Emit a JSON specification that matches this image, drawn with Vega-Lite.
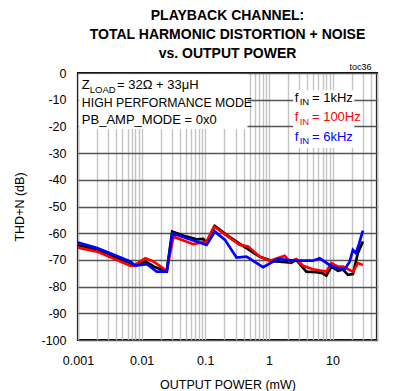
{
  "$schema": "https://vega.github.io/schema/vega-lite/v6.json",
  "width": 299,
  "height": 267,
  "autosize": "none",
  "padding": {"left": 78, "top": 73, "right": 35, "bottom": 51},
  "background": "white",
  "title": {
    "text": ["PLAYBACK CHANNEL:", "TOTAL HARMONIC DISTORTION + NOISE", "vs. OUTPUT POWER"],
    "font": "Liberation Sans",
    "fontSize": 14,
    "fontWeight": "bold",
    "lineHeight": 19,
    "anchor": "middle",
    "offset": 2,
    "color": "black"
  },
  "config": {
    "view": {"stroke": "black", "strokeWidth": 2.2},
    "font": "Liberation Sans",
    "text": {"font": "Liberation Sans"},
    "axisX": {
      "titleFont": "Liberation Sans",
      "titleFontSize": 12.5, "titleFontWeight": "normal", "titleColor": "black",
      "titlePadding": 12,
      "labelFont": "Liberation Sans",
      "labelFontSize": 12.5, "labelColor": "black", "labelPadding": 14,
      "labelOverlap": false, "labelFlush": false,
      "labelExpr": "abs(log(datum.value)/LN10 - round(log(datum.value)/LN10)) < 0.001 ? format(datum.value, '~g') : ''",
      "ticks": false, "domain": false,
      "grid": true, "gridColor": "#c4c4c4", "gridWidth": 1.4
    },
    "axisY": {
      "titleFont": "Liberation Sans",
      "titleFontSize": 12.5, "titleFontWeight": "normal", "titleColor": "black",
      "titlePadding": 14,
      "tickCount": 10,
      "labelExpr": "'' + datum.value",
      "labelOverlap": false, "labelFlush": false,
      "labelFont": "Liberation Sans",
      "labelFontSize": 12.5, "labelColor": "black", "labelPadding": 12,
      "ticks": false, "domain": false,
      "grid": true, "gridColor": "#555555", "gridWidth": 1.5
    }
  },
  "datasets": {
    "curves": [
      {"series": "1kHz", "power": 0.001, "thdn": -64.5},
      {"series": "1kHz", "power": 0.002, "thdn": -66.2},
      {"series": "1kHz", "power": 0.0033, "thdn": -68.3},
      {"series": "1kHz", "power": 0.0066, "thdn": -71.3},
      {"series": "1kHz", "power": 0.0079, "thdn": -72.2},
      {"series": "1kHz", "power": 0.0115, "thdn": -70.6},
      {"series": "1kHz", "power": 0.0165, "thdn": -72.8},
      {"series": "1kHz", "power": 0.0248, "thdn": -74.3},
      {"series": "1kHz", "power": 0.0302, "thdn": -59.4},
      {"series": "1kHz", "power": 0.051, "thdn": -61.3},
      {"series": "1kHz", "power": 0.073, "thdn": -62.3},
      {"series": "1kHz", "power": 0.093, "thdn": -62.1},
      {"series": "1kHz", "power": 0.105, "thdn": -63.6},
      {"series": "1kHz", "power": 0.142, "thdn": -57.3},
      {"series": "1kHz", "power": 0.216, "thdn": -60.6},
      {"series": "1kHz", "power": 0.37, "thdn": -64.4},
      {"series": "1kHz", "power": 0.72, "thdn": -68.8},
      {"series": "1kHz", "power": 1.16, "thdn": -70.5},
      {"series": "1kHz", "power": 2.26, "thdn": -71.0},
      {"series": "1kHz", "power": 2.7, "thdn": -70.0},
      {"series": "1kHz", "power": 3.88, "thdn": -74.4},
      {"series": "1kHz", "power": 5.57, "thdn": -74.6},
      {"series": "1kHz", "power": 7.0, "thdn": -75.0},
      {"series": "1kHz", "power": 8.0, "thdn": -75.9},
      {"series": "1kHz", "power": 9.6, "thdn": -72.5},
      {"series": "1kHz", "power": 12.2, "thdn": -74.1},
      {"series": "1kHz", "power": 14.6, "thdn": -73.6},
      {"series": "1kHz", "power": 17.5, "thdn": -75.6},
      {"series": "1kHz", "power": 20.9, "thdn": -75.3},
      {"series": "1kHz", "power": 25.0, "thdn": -67.5},
      {"series": "1kHz", "power": 30.0, "thdn": -63.1},
      {"series": "100Hz", "power": 0.001, "thdn": -65.4},
      {"series": "100Hz", "power": 0.002, "thdn": -66.9},
      {"series": "100Hz", "power": 0.0066, "thdn": -72.2},
      {"series": "100Hz", "power": 0.0074, "thdn": -72.2},
      {"series": "100Hz", "power": 0.0114, "thdn": -69.4},
      {"series": "100Hz", "power": 0.0153, "thdn": -70.6},
      {"series": "100Hz", "power": 0.0248, "thdn": -74.1},
      {"series": "100Hz", "power": 0.0315, "thdn": -61.3},
      {"series": "100Hz", "power": 0.065, "thdn": -64.1},
      {"series": "100Hz", "power": 0.105, "thdn": -63.1},
      {"series": "100Hz", "power": 0.137, "thdn": -57.5},
      {"series": "100Hz", "power": 0.191, "thdn": -60.0},
      {"series": "100Hz", "power": 0.35, "thdn": -64.4},
      {"series": "100Hz", "power": 0.47, "thdn": -65.0},
      {"series": "100Hz", "power": 0.72, "thdn": -68.8},
      {"series": "100Hz", "power": 1.03, "thdn": -70.3},
      {"series": "100Hz", "power": 1.77, "thdn": -68.5},
      {"series": "100Hz", "power": 2.12, "thdn": -70.6},
      {"series": "100Hz", "power": 2.7, "thdn": -69.7},
      {"series": "100Hz", "power": 3.44, "thdn": -72.2},
      {"series": "100Hz", "power": 4.93, "thdn": -73.5},
      {"series": "100Hz", "power": 8.0, "thdn": -74.4},
      {"series": "100Hz", "power": 9.6, "thdn": -71.2},
      {"series": "100Hz", "power": 12.2, "thdn": -72.5},
      {"series": "100Hz", "power": 14.6, "thdn": -72.5},
      {"series": "100Hz", "power": 20.9, "thdn": -74.4},
      {"series": "100Hz", "power": 25.0, "thdn": -71.2},
      {"series": "100Hz", "power": 30.0, "thdn": -71.9},
      {"series": "6kHz", "power": 0.001, "thdn": -63.5},
      {"series": "6kHz", "power": 0.002, "thdn": -65.6},
      {"series": "6kHz", "power": 0.0032, "thdn": -67.5},
      {"series": "6kHz", "power": 0.0066, "thdn": -70.6},
      {"series": "6kHz", "power": 0.0079, "thdn": -72.1},
      {"series": "6kHz", "power": 0.0121, "thdn": -71.6},
      {"series": "6kHz", "power": 0.0173, "thdn": -74.4},
      {"series": "6kHz", "power": 0.0248, "thdn": -74.4},
      {"series": "6kHz", "power": 0.0304, "thdn": -60.0},
      {"series": "6kHz", "power": 0.051, "thdn": -61.9},
      {"series": "6kHz", "power": 0.073, "thdn": -63.1},
      {"series": "6kHz", "power": 0.105, "thdn": -64.4},
      {"series": "6kHz", "power": 0.142, "thdn": -59.4},
      {"series": "6kHz", "power": 0.204, "thdn": -62.5},
      {"series": "6kHz", "power": 0.31, "thdn": -69.1},
      {"series": "6kHz", "power": 0.445, "thdn": -68.8},
      {"series": "6kHz", "power": 0.81, "thdn": -72.7},
      {"series": "6kHz", "power": 1.39, "thdn": -69.6},
      {"series": "6kHz", "power": 2.39, "thdn": -70.3},
      {"series": "6kHz", "power": 4.93, "thdn": -70.3},
      {"series": "6kHz", "power": 6.28, "thdn": -69.4},
      {"series": "6kHz", "power": 9.0, "thdn": -71.9},
      {"series": "6kHz", "power": 11.5, "thdn": -73.1},
      {"series": "6kHz", "power": 15.5, "thdn": -73.5},
      {"series": "6kHz", "power": 18.5, "thdn": -70.8},
      {"series": "6kHz", "power": 20.9, "thdn": -66.3},
      {"series": "6kHz", "power": 23.3, "thdn": -67.5},
      {"series": "6kHz", "power": 26.2, "thdn": -63.8},
      {"series": "6kHz", "power": 30.0, "thdn": -59.0}
    ],
    "one": [{}]
  },
  "layer": [
    {
      "data": {"name": "curves"},
      "layer": [
        {
          "transform": [{"filter": "datum.series === '1kHz'"}],
          "mark": {"type": "line", "color": "black", "strokeWidth": 2.7}
        },
        {
          "transform": [{"filter": "datum.series === '100Hz'"}],
          "mark": {"type": "line", "color": "#ff0000", "strokeWidth": 2.7}
        },
        {
          "transform": [{"filter": "datum.series === '6kHz'"}],
          "mark": {"type": "line", "color": "#0000ff", "strokeWidth": 2.7}
        }
      ],
      "encoding": {
        "x": {
          "field": "power", "type": "quantitative",
          "scale": {"type": "log", "domain": [0.001, 50], "nice": false},
          "axis": {"title": "OUTPUT POWER (mW)"}
        },
        "y": {
          "field": "thdn", "type": "quantitative",
          "scale": {"domain": [-100, 0], "nice": false, "zero": false},
          "axis": {"title": "THD+N (dB)"}
        }
      }
    },
    {
      "data": {"name": "one"},
      "mark": {"type": "rect", "fill": "white"},
      "encoding": {
        "x": {"datum": 0.00104, "type": "quantitative"},
        "x2": {"datum": 0.46},
        "y": {"datum": -0.5, "type": "quantitative"},
        "y2": {"datum": -21}
      }
    },
    {
      "data": {"name": "one"},
      "mark": {"type": "rect", "fill": "white"},
      "encoding": {
        "x": {"datum": 2.4, "type": "quantitative"},
        "x2": {"datum": 22},
        "y": {"datum": -6.5, "type": "quantitative"},
        "y2": {"datum": -28}
      }
    },
    {
      "data": {"name": "one"},
      "mark": {"type": "text", "align": "left", "baseline": "middle", "fontSize": 13, "color": "black"},
      "encoding": {
        "x": {"datum": 0.00115, "type": "quantitative"},
        "y": {"datum": -4.5, "type": "quantitative"},
        "text": {"value": "Z"}
      }
    },
    {
      "data": {"name": "one"},
      "mark": {"type": "text", "align": "left", "baseline": "middle", "fontSize": 9.5, "color": "black"},
      "encoding": {
        "x": {"datum": 0.00153, "type": "quantitative"},
        "y": {"datum": -6.3, "type": "quantitative"},
        "text": {"value": "LOAD"}
      }
    },
    {
      "data": {"name": "one"},
      "mark": {"type": "text", "align": "left", "baseline": "middle", "fontSize": 13, "color": "black"},
      "encoding": {
        "x": {"datum": 0.0041, "type": "quantitative"},
        "y": {"datum": -4.5, "type": "quantitative"},
        "text": {"value": "= 32Ω + 33μH"}
      }
    },
    {
      "data": {"name": "one"},
      "mark": {"type": "text", "align": "left", "baseline": "middle", "fontSize": 12.3, "color": "black"},
      "encoding": {
        "x": {"datum": 0.00115, "type": "quantitative"},
        "y": {"datum": -11.1, "type": "quantitative"},
        "text": {"value": "HIGH PERFORMANCE MODE"}
      }
    },
    {
      "data": {"name": "one"},
      "mark": {"type": "text", "align": "left", "baseline": "middle", "fontSize": 13, "color": "black"},
      "encoding": {
        "x": {"datum": 0.00115, "type": "quantitative"},
        "y": {"datum": -17.6, "type": "quantitative"},
        "text": {"value": "PB_AMP_MODE = 0x0"}
      }
    },
    {
      "data": {"name": "one"},
      "mark": {"type": "text", "align": "left", "baseline": "middle", "fontSize": 13, "color": "black"},
      "encoding": {
        "x": {"datum": 2.54, "type": "quantitative"},
        "y": {"datum": -9.4, "type": "quantitative"},
        "text": {"value": "f"}
      }
    },
    {
      "data": {"name": "one"},
      "mark": {"type": "text", "align": "left", "baseline": "middle", "fontSize": 9.5, "color": "black"},
      "encoding": {
        "x": {"datum": 3.05, "type": "quantitative"},
        "y": {"datum": -10.9, "type": "quantitative"},
        "text": {"value": "IN"}
      }
    },
    {
      "data": {"name": "one"},
      "mark": {"type": "text", "align": "left", "baseline": "middle", "fontSize": 13, "color": "black"},
      "encoding": {
        "x": {"datum": 4.75, "type": "quantitative"},
        "y": {"datum": -9.4, "type": "quantitative"},
        "text": {"value": "= 1kHz"}
      }
    },
    {
      "data": {"name": "one"},
      "mark": {"type": "text", "align": "left", "baseline": "middle", "fontSize": 13, "color": "#ff0000"},
      "encoding": {
        "x": {"datum": 2.54, "type": "quantitative"},
        "y": {"datum": -16.6, "type": "quantitative"},
        "text": {"value": "f"}
      }
    },
    {
      "data": {"name": "one"},
      "mark": {"type": "text", "align": "left", "baseline": "middle", "fontSize": 9.5, "color": "#ff0000"},
      "encoding": {
        "x": {"datum": 3.05, "type": "quantitative"},
        "y": {"datum": -18.2, "type": "quantitative"},
        "text": {"value": "IN"}
      }
    },
    {
      "data": {"name": "one"},
      "mark": {"type": "text", "align": "left", "baseline": "middle", "fontSize": 13, "color": "#ff0000"},
      "encoding": {
        "x": {"datum": 4.75, "type": "quantitative"},
        "y": {"datum": -16.6, "type": "quantitative"},
        "text": {"value": "= 100Hz"}
      }
    },
    {
      "data": {"name": "one"},
      "mark": {"type": "text", "align": "left", "baseline": "middle", "fontSize": 13, "color": "#0000ff"},
      "encoding": {
        "x": {"datum": 2.54, "type": "quantitative"},
        "y": {"datum": -24.0, "type": "quantitative"},
        "text": {"value": "f"}
      }
    },
    {
      "data": {"name": "one"},
      "mark": {"type": "text", "align": "left", "baseline": "middle", "fontSize": 9.5, "color": "#0000ff"},
      "encoding": {
        "x": {"datum": 3.05, "type": "quantitative"},
        "y": {"datum": -25.4, "type": "quantitative"},
        "text": {"value": "IN"}
      }
    },
    {
      "data": {"name": "one"},
      "mark": {"type": "text", "align": "left", "baseline": "middle", "fontSize": 13, "color": "#0000ff"},
      "encoding": {
        "x": {"datum": 4.75, "type": "quantitative"},
        "y": {"datum": -24.0, "type": "quantitative"},
        "text": {"value": "= 6kHz"}
      }
    },
    {
      "data": {"name": "one"},
      "mark": {"type": "text", "align": "right", "baseline": "middle", "fontSize": 9, "color": "black"},
      "encoding": {
        "x": {"datum": 41, "type": "quantitative"},
        "y": {"datum": 2.4, "type": "quantitative"},
        "text": {"value": "toc36"}
      }
    }
  ]
}
